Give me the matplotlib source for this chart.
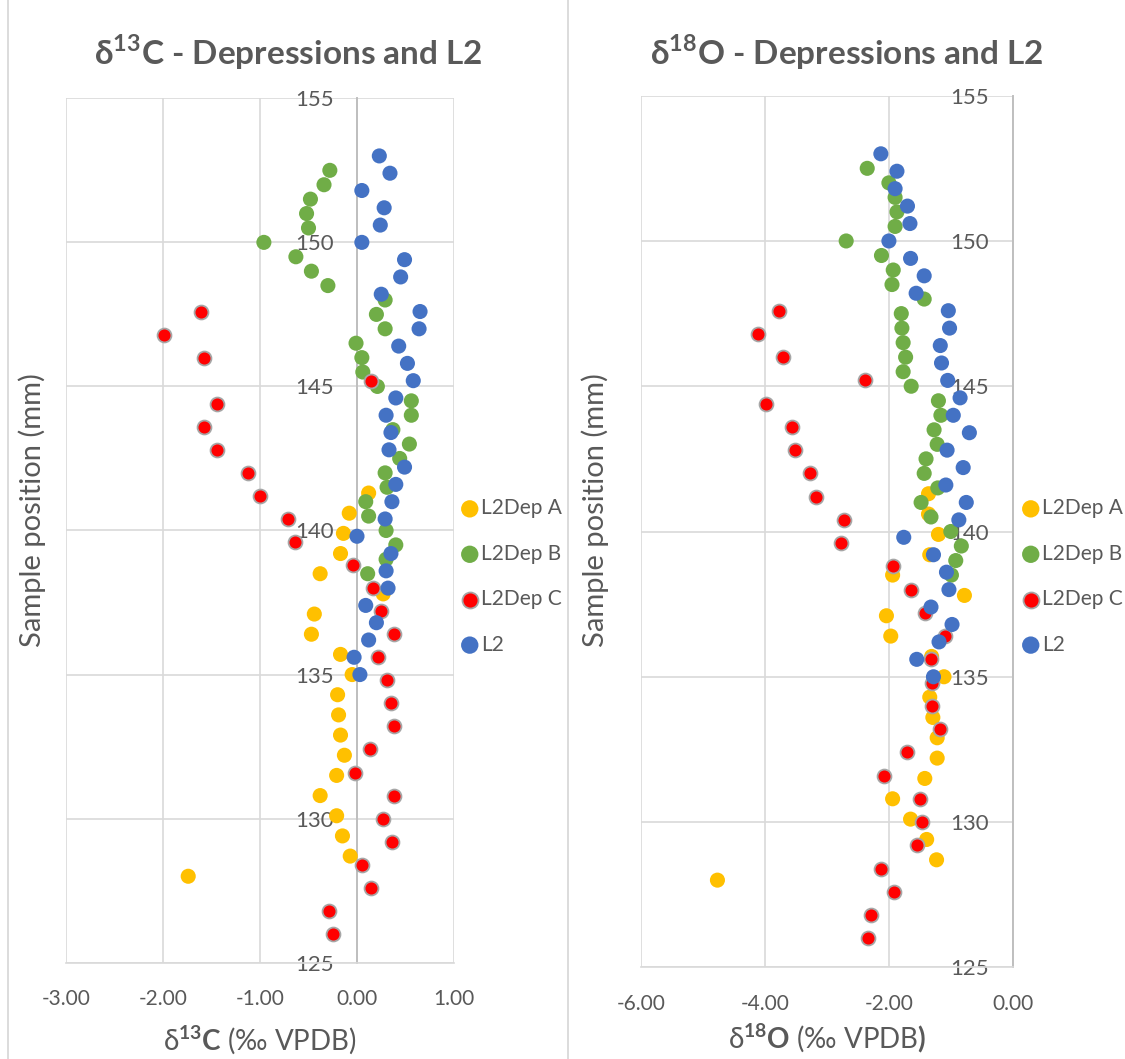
import matplotlib
matplotlib.use("Agg")
import matplotlib.pyplot as plt
from matplotlib.lines import Line2D

plt.rcParams["font.family"] = ["Lato", "Noto Sans", "DejaVu Sans"]
plt.rcParams["mathtext.fontset"] = "custom"
plt.rcParams["mathtext.rm"] = "Lato"
plt.rcParams["mathtext.bf"] = "Lato:bold"
plt.rcParams["axes.unicode_minus"] = False

# Sample positions (mm) and isotope values
pos_a = [141.3, 140.6, 139.9, 139.2, 138.5, 137.8, 137.1, 136.4, 135.7, 135.0,
         134.3, 133.6, 132.9, 132.2, 131.5, 130.8, 130.1, 129.4, 128.7, 128.0]
c13_a = [0.12, -0.08, -0.14, -0.17, -0.38, 0.27, -0.44, -0.47, -0.17, -0.05,
         -0.20, -0.19, -0.17, -0.13, -0.21, -0.38, -0.21, -0.15, -0.07, -1.74]
o18_a = [-1.36, -1.36, -1.20, -1.34, -1.94, -0.78, -2.04, -1.97, -1.31, -1.11,
         -1.34, -1.29, -1.22, -1.22, -1.42, -1.94, -1.65, -1.39, -1.23, -4.77]

pos_b = [152.5, 152.0, 151.5, 151.0, 150.5, 150.0, 149.5, 149.0, 148.5, 148.0,
         147.5, 147.0, 146.5, 146.0, 145.5, 145.0, 144.5, 144.0, 143.5, 143.0,
         142.5, 142.0, 141.5, 141.0, 140.5, 140.0, 139.5, 139.0, 138.5]
c13_b = [-0.28, -0.34, -0.48, -0.52, -0.50, -0.96, -0.63, -0.47, -0.30, 0.29,
         0.20, 0.29, -0.01, 0.05, 0.06, 0.21, 0.56, 0.56, 0.37, 0.54,
         0.44, 0.29, 0.31, 0.09, 0.12, 0.30, 0.40, 0.30, 0.11]
o18_b = [-2.35, -2.00, -1.90, -1.87, -1.90, -2.69, -2.12, -1.93, -1.95, -1.43,
         -1.80, -1.79, -1.77, -1.73, -1.77, -1.64, -1.20, -1.16, -1.27, -1.22,
         -1.40, -1.43, -1.21, -1.48, -1.32, -1.00, -0.83, -0.92, -0.99]

pos_c = [147.6, 146.8, 146.0, 145.2, 144.4, 143.6, 142.8, 142.0, 141.2, 140.4,
         139.6, 138.8, 138.0, 137.2, 136.4, 135.6, 134.8, 134.0, 133.2, 132.4,
         131.6, 130.8, 130.0, 129.2, 128.4, 127.6, 126.8, 126.0]
c13_c = [-1.61, -1.99, -1.58, 0.14, -1.44, -1.58, -1.44, -1.12, -1.00, -0.71,
         -0.64, -0.04, 0.17, 0.25, 0.38, 0.22, 0.31, 0.35, 0.38, 0.13,
         -0.02, 0.38, 0.27, 0.36, 0.05, 0.14, -0.29, -0.25]
o18_c = [-3.78, -4.11, -3.71, -2.38, -3.99, -3.57, -3.51, -3.28, -3.17, -2.73,
         -2.78, -1.94, -1.64, -1.42, -1.09, -1.32, -1.30, -1.31, -1.18, -1.71,
         -2.08, -1.49, -1.46, -1.54, -2.13, -1.91, -2.29, -2.33]

pos_l2 = [153.0, 152.4, 151.8, 151.2, 150.6, 150.0, 149.4, 148.8, 148.2, 147.6,
          147.0, 146.4, 145.8, 145.2, 144.6, 144.0, 143.4, 142.8, 142.2, 141.6,
          141.0, 140.4, 139.8, 139.2, 138.6, 138.0, 137.4, 136.8, 136.2, 135.6,
          135.0]
c13_l2 = [0.23, 0.34, 0.05, 0.28, 0.24, 0.05, 0.49, 0.45, 0.25, 0.65,
          0.64, 0.43, 0.52, 0.58, 0.40, 0.30, 0.35, 0.33, 0.49, 0.40,
          0.36, 0.29, 0.00, 0.35, 0.30, 0.32, 0.09, 0.20, 0.12, -0.03,
          0.03]
o18_l2 = [-2.13, -1.87, -1.90, -1.70, -1.66, -2.00, -1.65, -1.43, -1.56, -1.04,
          -1.02, -1.17, -1.15, -1.05, -0.85, -0.96, -0.70, -1.06, -0.80, -1.08,
          -0.75, -0.87, -1.76, -1.28, -1.07, -1.03, -1.32, -0.98, -1.19, -1.55,
          -1.28]

labels = ["L2Dep A", "L2Dep B", "L2Dep C", "L2"]
colors = ["#FFC000", "#70AD47", "#FF0000", "#4472C4"]
yticks = [125, 130, 135, 140, 145, 150, 155]
xticks_c = [-3, -2, -1, 0, 1]
xticks_o = [-6, -4, -2, 0]

txt = "#595959"
grid = "#d9d9d9"

W, H = 1125, 1059
fig = plt.figure(figsize=(W / 100, H / 100), dpi=100)


def px(x0, y0, x1, y1):
    return [x0 / W, 1 - y1 / H, (x1 - x0) / W, (y1 - y0) / H]


def panel(rect, series, xticks, xlim):
    ax = fig.add_axes(rect)
    handles = []
    for (xs, ys), lab, col in zip(series, labels, colors):
        if lab == "L2Dep C":
            h = ax.scatter(xs, ys, s=100, color=col, edgecolors="#a6a6a6",
                           linewidths=1.3, label=lab, zorder=3)
        else:
            h = ax.scatter(xs, ys, s=118, color=col, edgecolors="none",
                           label=lab, zorder=3)
        handles.append(h)
    ax.set_xlim(*xlim)
    ax.set_ylim(125, 155)
    ax.set_xticks(xticks)
    ax.set_xticklabels(["%.2f" % v for v in xticks])
    ax.set_yticks(yticks)
    ax.grid(True, color=grid, lw=1.2)
    ax.set_axisbelow(True)
    for s in ["top", "right"]:
        ax.spines[s].set_visible(False)
    ax.spines["bottom"].set_color(grid)
    ax.spines["bottom"].set_linewidth(1.2)
    ax.spines["left"].set_position(("data", 0))
    ax.spines["left"].set_color("#bfbfbf")
    ax.spines["left"].set_linewidth(1.4)
    ax.tick_params(axis="y", length=0, pad=17, labelsize=16, labelcolor=txt)
    ax.tick_params(axis="x", length=0, pad=19, labelsize=15, labelcolor=txt)
    return ax, handles


ax1, h1 = panel(px(66, 98.3, 454, 962.7),
                [(c13_a, pos_a), (c13_b, pos_b), (c13_c, pos_c), (c13_l2, pos_l2)],
                xticks_c, (-3, 1))
ax2, h2 = panel(px(641.3, 95.7, 1012.7, 967.3),
                [(o18_a, pos_a), (o18_b, pos_b), (o18_c, pos_c), (o18_l2, pos_l2)],
                xticks_o, (-6, 0))

# titles
fig.text(288 / W, 1 - 52 / H, "δ$^{\\mathbf{13}}$C - Depressions and L2",
         ha="center", va="center", fontsize=24, fontweight="bold", color=txt)
fig.text(847 / W, 1 - 52 / H, "δ$^{\\mathbf{18}}$O - Depressions and L2",
         ha="center", va="center", fontsize=24, fontweight="bold", color=txt)

# axis labels
fig.text(260 / W, 1 - 1040 / H, "δ$^{\\mathbf{13}}\\mathbf{C}$ (‰ VPDB)",
         ha="center", va="center", fontsize=20, color=txt)
fig.text(827 / W, 1 - 1038 / H, "δ$^{\\mathbf{18}}\\mathbf{O}$ (‰ VPDB$\\mathbf{)}$",
         ha="center", va="center", fontsize=20, color=txt)
fig.text(32 / W, 1 - 510 / H, "Sample position (mm)", rotation=90,
         ha="center", va="center", fontsize=21, color=txt)
fig.text(595 / W, 1 - 510 / H, "Sample position (mm)", rotation=90,
         ha="center", va="center", fontsize=21, color=txt)

# legends
for hs, x0 in [(h1, 451), (h2, 1012)]:
    fig.legend(hs, labels, loc="upper left", bbox_to_anchor=(x0 / W, 1 - 490 / H),
               frameon=False, fontsize=15, labelcolor=txt, handletextpad=0.05,
               handlelength=1.0, labelspacing=1.22, borderaxespad=0,
               markerscale=1.15)

# chart area borders
for xb in [7.5, 568]:
    fig.add_artist(Line2D([xb / W, xb / W], [0, 1], color=grid, lw=1.3))

fig.savefig("out.png", dpi=100)
